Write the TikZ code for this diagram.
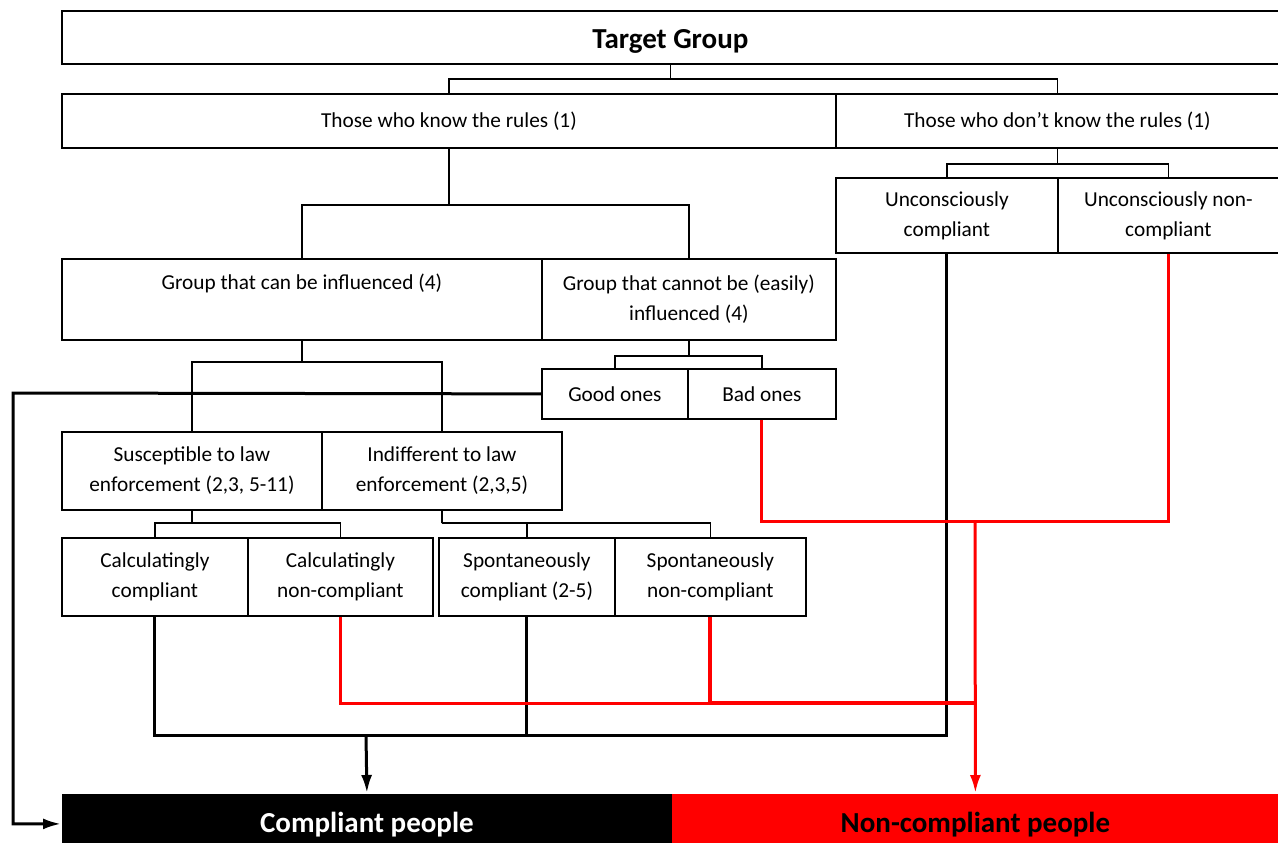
\documentclass[tikz,border=0pt]{standalone}
\usepackage{fontspec}
\setmainfont{Carlito}
\usetikzlibrary{positioning, arrows.meta, calc}
\definecolor{ncred}{HTML}{FF0000}

\tikzset{
  cell/.style={draw, line width=1.8pt, anchor=north west, inner sep=0pt, align=center,
               font=\fontsize{21.3}{30}\selectfont},
  tree/.style={line width=1.6pt},
  flowblk/.style={line width=3pt, black},
  flowred/.style={line width=3pt, ncred},
  tip/.style={-{Latex[length=18pt,width=11pt]}}
}
\newcommand{\lowered}[2]{\raisebox{-#1}[\height][\depth]{#2}}

\begin{document}
\begin{tikzpicture}[x=1pt, y=-1pt]
  \useasboundingbox (0,0) rectangle (1278,843);

  % boxes of the tree
  \node[cell, minimum width=1217pt, minimum height=53pt, font=\fontsize{29}{34}\selectfont\bfseries] (tg) at (61,10) {\lowered{4pt}{Target Group}};
  \node[cell, minimum width=774pt, minimum height=54pt] (know) at (61,93) {Those who know the rules (1)};
  \node[cell, minimum width=443pt, minimum height=54pt] (dknow) at (835,93) {Those who don’t know the rules (1)};
  \node[cell, minimum width=222pt, minimum height=75pt] (uncc) at (835,177) {Unconsciously\\compliant};
  \node[cell, minimum width=221pt, minimum height=75pt] (uncn) at (1057,177) {Unconsciously non-\\compliant};
  \node[cell, minimum width=480pt, minimum height=81pt] (infl) at (61,258) {\lowered{-3pt}{Group that can be influenced (4)}\\\mbox{}};
  \node[cell, minimum width=294pt, minimum height=81pt] (ninfl) at (541,258) {Group that cannot be (easily)\\influenced (4)};
  \node[cell, minimum width=146pt, minimum height=50pt] (good) at (541,368) {Good ones};
  \node[cell, minimum width=148pt, minimum height=50pt] (bad) at (687,368) {Bad ones};
  \node[cell, minimum width=260pt, minimum height=78pt] (susc) at (61,431) {Susceptible to law\\enforcement (2,3, 5-11)};
  \node[cell, minimum width=240pt, minimum height=78pt] (indif) at (321,431) {Indifferent to law\\enforcement (2,3,5)};
  \node[cell, minimum width=186pt, minimum height=78pt] (calcc) at (61,537) {Calculatingly\\compliant};
  \node[cell, minimum width=185pt, minimum height=78pt] (calcn) at (247,537) {Calculatingly\\non-compliant};
  \node[cell, minimum width=176pt, minimum height=78pt] (spoc) at (438,537) {Spontaneously\\compliant (2-5)};
  \node[cell, minimum width=191pt, minimum height=78pt] (spon) at (614,537) {Spontaneously\\non-compliant};

  % outcome bars
  \node[cell, draw=none, fill=black, text=white, minimum width=610pt, minimum height=50pt,
        font=\fontsize{29}{34}\selectfont\bfseries] (comp) at (61,793) {\lowered{6pt}{Compliant people}};
  \node[cell, draw=none, fill=ncred, text=black, minimum width=607pt, minimum height=50pt,
        font=\fontsize{29}{34}\selectfont\bfseries] (ncomp) at (671,793) {\lowered{6pt}{Non-compliant people}};

  % tree connectors
  \draw[tree] (tg.south) -- ++(0,14) coordinate (j1) (know.north) |- (j1) -| (dknow.north);
  \draw[tree] (know.south) -- ++(0,56) coordinate (j2) (infl.north) |- (j2) -| (ninfl.north);
  \draw[tree] (dknow.south) -- ++(0,15) coordinate (j3) (uncc.north) |- (j3) -| (uncn.north);
  \draw[tree] (infl.south) -- ++(0,21) coordinate (j4) (susc.north) |- (j4) -| (indif.north);
  \draw[tree] (ninfl.south) -- ++(0,15) coordinate (j5) (good.north) |- (j5) -| (bad.north);
  \draw[tree] (susc.south) -- ++(0,12) coordinate (j6) (calcc.north) |- (j6) -| (calcn.north);
  \draw[tree] (indif.south) -- ++(0,12) coordinate (j7) (spoc.north) |- (j7) -| (spon.north);

  % compliant flows
  \coordinate (cb) at (366,735);
  \draw[flowblk, tip] (good.west) -- (13,393) |- ([yshift=-5pt]comp.west);
  \draw[flowblk] (calcc.south) |- (cb) -| (uncc.south);
  \draw[flowblk] (spoc.south) -- (spoc.south |- cb);
  \draw[flowblk, tip] (cb) -- (comp.north);

  % non-compliant flows
  \coordinate (cr) at (975,703);
  \coordinate (cr2) at (975,521);
  \draw[flowred] (calcn.south) |- (cr);
  \draw[flowred, line width=4pt] (spon.south) |- (cr);
  \draw[flowred] (bad.south) |- (cr2) -| (uncn.south);
  \draw[flowred, tip] (cr2) -- (ncomp.north);
\end{tikzpicture}
\end{document}
